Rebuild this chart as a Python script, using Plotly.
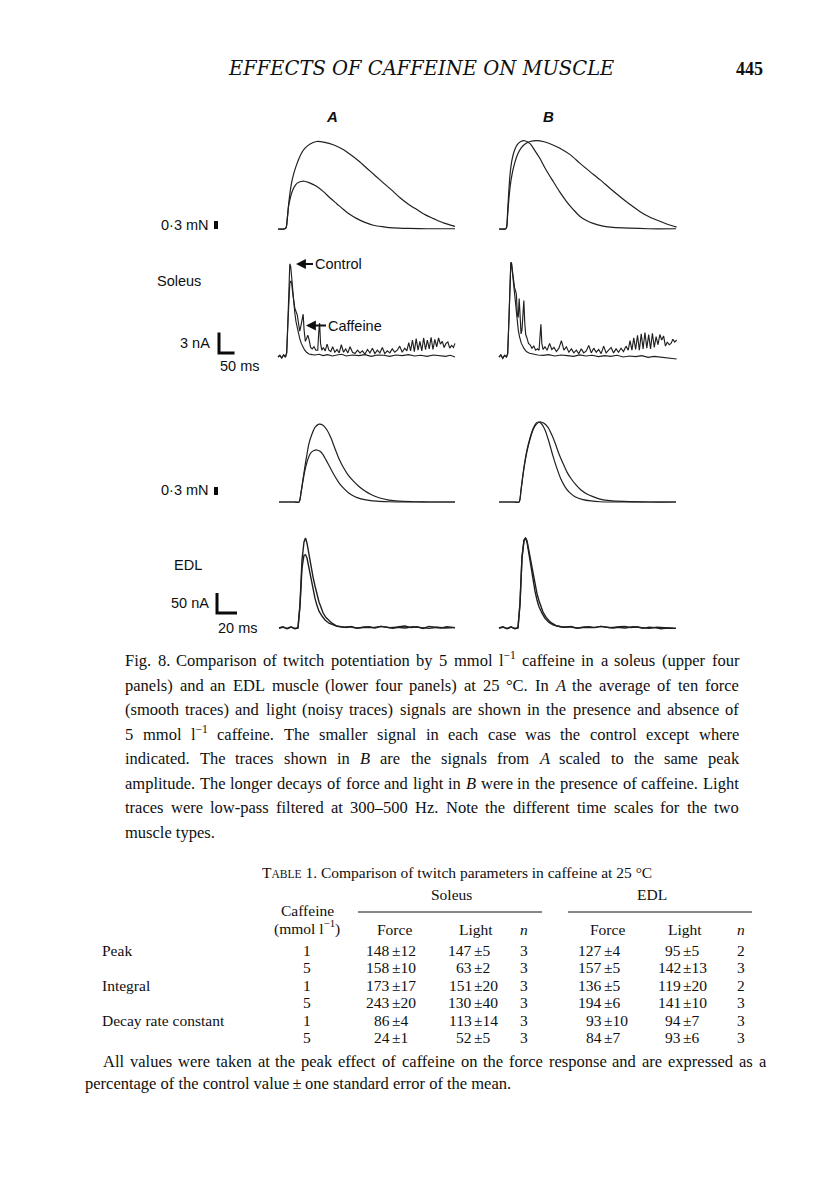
import re
import plotly.graph_objects as go

W, H = 816, 1203
INK = "#0f0f0f"
TRACE = "#202020"
SERIF = "Liberation Serif"
SANS = "Liberation Sans"

# ------------------------------------------------------------------ data
# Soleus force (time in ms, force in mN)
sol_force_A_ctrl_t = [0, 20, 26, 30, 34, 38, 44, 52, 62, 74, 85, 100, 124, 146, 168, 190, 211, 232, 254, 280, 307, 340, 372, 420, 480, 570]
sol_force_A_ctrl = [0, 0, 0.05, 0.4, 0.85, 1.08, 1.35, 1.57, 1.72, 1.78, 1.79, 1.74, 1.6, 1.4, 1.16, 0.94, 0.73, 0.54, 0.39, 0.25, 0.14, 0.08, 0.04, 0.02, 0.01, 0.01]
sol_force_A_caf_t = [0, 20, 26, 30, 34, 38, 44, 50, 58, 66, 76, 87, 105, 125, 150, 178, 210, 232, 260, 286, 315, 340, 370, 394, 420, 447, 475, 501, 535, 570]
sol_force_A_caf = [0, 0, 0.05, 0.4, 0.9, 1.3, 1.75, 2.05, 2.35, 2.6, 2.85, 3.03, 3.2, 3.28, 3.25, 3.16, 2.98, 2.8, 2.55, 2.28, 1.98, 1.72, 1.42, 1.16, 0.93, 0.73, 0.53, 0.39, 0.22, 0.1]
sol_force_B_ctrl_t = [0, 20, 24, 28, 32, 36, 42, 50, 60, 70, 83, 100, 115, 131, 150, 174, 195, 217, 240, 260, 280, 303, 335, 368, 420, 480, 570]
sol_force_B_ctrl = [0, 0, 0.05, 0.7, 1.5, 2.1, 2.6, 2.95, 3.18, 3.28, 3.31, 3.2, 2.95, 2.66, 2.25, 1.79, 1.4, 1.04, 0.72, 0.48, 0.33, 0.21, 0.11, 0.06, 0.03, 0.01, 0.01]
sol_force_B_caf_t = [0, 20, 24, 28, 32, 36, 42, 50, 60, 72, 85, 100, 121, 145, 170, 196, 230, 260, 292, 325, 357, 389, 421, 453, 485, 518, 545, 572]
sol_force_B_caf = [0, 0, 0.05, 0.55, 1.15, 1.6, 2.05, 2.45, 2.8, 3.05, 3.2, 3.28, 3.31, 3.27, 3.17, 3.03, 2.78, 2.47, 2.16, 1.85, 1.53, 1.22, 0.93, 0.66, 0.45, 0.29, 0.17, 0.07]

# Soleus light (time in ms, light signal in nA)
sol_light_A_ctrl_t = [0, 6, 12, 18, 24, 28, 32, 35, 38, 41,
                      44, 47, 50, 54, 58, 62, 66, 70, 75, 80,
                      86, 92, 100, 110, 120, 132, 145, 160, 175, 190,
                      205, 220, 240, 260, 280, 300, 320, 340, 360, 380,
                      400, 420, 440, 460, 480, 500, 520, 540, 555, 570]
sol_light_A_ctrl = [0.0, 0.25, -0.15, 0.3, 0.0, 0.6, 5.5, 11.0, 13.7, 13.3,
                    11.6, 10.0, 8.2, 6.5, 5.2, 4.2, 3.4, 2.7, 2.0, 1.5,
                    1.0, 0.7, 0.45, 0.35, 0.3, 0.4, 0.2, 0.35, 0.15, 0.3,
                    0.4, 0.15, 0.3, 0.2, 0.35, 0.1, 0.3, 0.25, 0.1, 0.3,
                    0.2, 0.35, 0.15, 0.25, 0.1, 0.3, 0.2, 0.1, 0.25, 0.0]
sol_light_A_caf_t = [0, 6, 12, 18, 24, 28, 32, 35, 38, 41,
                     44, 47, 50, 54, 58, 62, 66, 70, 74, 78,
                     81, 84, 88, 92, 96, 100, 105, 110, 116, 122,
                     128, 131, 134, 137, 141, 146, 152, 158, 164, 170,
                     176, 183, 190, 197, 204, 211, 218, 225, 232, 240,
                     248, 256, 264, 272, 280, 288, 296, 304, 312, 320,
                     328, 336, 344, 352, 360, 368, 376, 384, 392, 400,
                     408, 415, 421, 427, 433, 439, 445, 451, 457, 463,
                     469, 475, 481, 487, 493, 499, 505, 511, 517, 523,
                     529, 535, 541, 547, 553, 559, 565, 570]
sol_light_A_caf = [0.0, 0.25, -0.15, 0.3, 0.0, 0.6, 5.0, 9.0, 10.8, 11.2,
                   10.9, 9.5, 8.2, 7.2, 6.7, 6.2, 5.0, 3.8, 4.6, 6.0,
                   6.3, 4.0, 2.3, 2.7, 3.2, 2.6, 1.4, 1.2, 1.5, 1.0,
                   1.0, 3.5, 5.0, 2.0, 1.0, 1.4, 0.9, 1.9, 1.0, 0.8,
                   1.5, 0.7, 1.1, 0.6, 1.8, 0.7, 1.2, 0.6, 1.5, 0.7,
                   0.5, 1.0, 0.6, 0.9, 0.4, 1.1, 0.6, 1.3, 0.5, 1.0,
                   0.6, 1.4, 0.5, 0.9, 0.6, 1.2, 0.7, 1.0, 1.6, 0.7,
                   1.3, 0.9, 2.1, 0.9, 2.5, 0.8, 2.7, 1.0, 2.3, 0.9,
                   2.8, 1.1, 2.5, 1.2, 2.9, 1.1, 2.6, 1.5, 2.8, 1.9,
                   2.3, 1.4, 2.0, 2.2, 1.3, 1.7, 1.4, 2.0]
sol_light_B_ctrl_t = [0, 6, 12, 18, 24, 28, 32, 35, 38, 40,
                      43, 47, 50, 54, 58, 62, 66, 72, 80, 88,
                      98, 110, 125, 142, 160, 180, 200, 220, 240, 260,
                      280, 300, 320, 340, 360, 380, 400, 420, 440, 460,
                      480, 500, 520, 540, 555, 572]
sol_light_B_ctrl = [0.0, 0.3, -0.2, 0.25, 0.0, 0.5, 5.5, 11.5, 13.8, 13.9,
                    12.5, 10.5, 8.5, 6.8, 5.2, 4.0, 3.0, 2.0, 1.3, 0.8,
                    0.55, 0.4, 0.3, 0.25, 0.35, 0.15, 0.3, 0.2, 0.1, 0.3,
                    0.15, 0.25, 0.05, 0.2, 0.1, 0.25, 0.0, 0.15, 0.05, 0.2,
                    -0.05, 0.1, 0.0, -0.1, -0.2, -0.3]
sol_light_B_caf_t = [0, 6, 12, 18, 24, 28, 32, 35, 38, 40,
                     43, 47, 50, 53, 56, 59, 62, 65, 68, 71,
                     74, 77, 80, 83, 86, 90, 95, 100, 106, 112,
                     118, 124, 129, 132, 135, 138, 142, 148, 155, 163,
                     170, 177, 185, 193, 201, 209, 217, 225, 233, 241,
                     249, 257, 265, 273, 281, 289, 297, 305, 313, 321,
                     329, 337, 345, 353, 361, 369, 377, 385, 393, 401,
                     409, 416, 422, 428, 434, 440, 446, 452, 458, 464,
                     470, 476, 482, 488, 494, 500, 506, 512, 518, 524,
                     530, 536, 542, 548, 554, 560, 566, 572]
sol_light_B_caf = [0.0, 0.3, -0.2, 0.25, 0.0, 0.5, 5.5, 11.5, 13.8, 13.9,
                   12.8, 11.0, 10.2, 9.8, 9.2, 6.2, 5.8, 8.6, 6.5, 3.4,
                   4.0, 7.5, 8.3, 5.0, 3.3, 2.8, 2.0, 1.8, 1.3, 1.6,
                   1.0, 1.2, 1.0, 3.0, 4.8, 2.0, 1.1, 1.5, 1.0, 2.0,
                   1.1, 1.4, 0.8, 1.3, 2.4, 1.0, 1.5, 0.7, 1.2, 0.6,
                   1.0, 0.5, 1.2, 0.6, 0.9, 1.7, 0.6, 1.3, 0.7, 1.1,
                   0.5, 1.6, 0.6, 1.0, 1.4, 0.6, 1.2, 0.7, 1.3, 0.8,
                   1.6, 1.0, 2.4, 1.0, 2.8, 1.1, 3.2, 1.0, 3.4, 1.2,
                   3.6, 1.3, 3.3, 1.2, 3.5, 1.4, 3.0, 1.8, 3.3, 2.5,
                   3.1, 1.6, 2.2, 1.8, 2.0, 2.6, 2.2, 2.5]

# EDL force (ms, mN)
edl_force_A_ctrl_t = [0, 15, 20, 22, 24, 26, 28, 30, 32, 35, 38, 41, 44, 47, 51, 55, 60, 65, 70, 76, 82, 90, 98, 110, 125, 150, 176]
edl_force_A_ctrl = [0, 0, 0, 0.35, 0.8, 1.2, 1.5, 1.72, 1.85, 1.93, 1.95, 1.9, 1.78, 1.58, 1.3, 1.02, 0.72, 0.5, 0.33, 0.2, 0.12, 0.06, 0.03, 0.01, 0, 0, 0]
edl_force_A_caf_t = [0, 15, 20, 22, 24, 26, 28, 30, 33, 36, 40, 44, 48, 52, 56, 60, 64, 69, 74, 80, 86, 92, 100, 110, 120, 135, 150, 176]
edl_force_A_caf = [0, 0, 0, 0.35, 0.85, 1.35, 1.8, 2.2, 2.55, 2.8, 2.92, 2.88, 2.7, 2.4, 2.0, 1.62, 1.32, 1.02, 0.8, 0.58, 0.41, 0.28, 0.16, 0.07, 0.03, 0.01, 0, 0]
edl_force_B_ctrl_t = [0, 15, 20, 22, 24, 26, 28, 31, 34, 37, 39, 42, 46, 50, 54, 58, 62, 66, 71, 76, 84, 92, 101, 115, 140, 177]
edl_force_B_ctrl = [0, 0, 0, 0.45, 1.05, 1.55, 1.95, 2.4, 2.75, 2.95, 3.0, 2.95, 2.7, 2.25, 1.72, 1.25, 0.85, 0.57, 0.34, 0.2, 0.09, 0.04, 0.01, 0, 0, 0]
edl_force_B_caf_t = [0, 15, 20, 22, 24, 26, 28, 31, 34, 37, 40, 42, 45, 49, 53, 56, 60, 64, 68, 72, 77, 82, 88, 94, 102, 111, 125, 150, 177]
edl_force_B_caf = [0, 0, 0, 0.45, 1.0, 1.5, 1.9, 2.35, 2.7, 2.9, 2.99, 3.0, 2.95, 2.8, 2.5, 2.22, 1.8, 1.45, 1.12, 0.88, 0.64, 0.45, 0.3, 0.2, 0.1, 0.05, 0.02, 0, 0]

# EDL light (ms, nA)
edl_light_A_ctrl_t = [0, 4, 8, 12, 16, 19, 21, 23, 25, 26.5, 28, 30, 32, 34, 36, 38, 40, 43, 46, 50, 54, 58, 64, 70, 78, 86, 94, 102, 110, 118, 126, 134, 142, 150, 158, 166, 176]
edl_light_A_ctrl = [0, 2, -1, 3, -2, 0, 55, 150, 182, 183, 175, 148, 120, 96, 74, 56, 42, 30, 20, 12, 7, 4, 2, 3, 0, 2, 1, 4, 1, 2, 0, 3, 1, -1, 2, 0, 1]
edl_light_A_caf_t = [0, 4, 8, 12, 16, 19, 21, 23, 25, 26.5, 28, 30, 32, 34, 36, 38, 40, 42, 44, 47, 50, 53, 57, 62, 67, 72, 78, 84, 90, 96, 102, 108, 114, 120, 126, 132, 138, 144, 150, 156, 162, 168, 176]
edl_light_A_caf = [0, 3, -2, 2, -1, 1, 60, 170, 215, 225, 212, 180, 150, 128, 105, 82, 65, 52, 38, 26, 18, 12, 6, 3, 1, 4, -1, 2, 3, 0, 4, 2, -1, 3, 5, 1, 3, -1, 4, 2, 0, 3, 1]
edl_light_B_ctrl_t = [0, 4, 8, 12, 16, 19, 21, 23, 25, 26.5, 28, 30, 32, 34, 36, 38, 40, 43, 46, 50, 54, 58, 64, 70, 78, 86, 94, 102, 110, 118, 126, 134, 142, 150, 158, 166, 177]
edl_light_B_ctrl = [0, 2, -1, 3, -2, 0, 60, 175, 218, 225, 215, 182, 150, 118, 92, 70, 53, 37, 24, 14, 8, 5, 2, 3, 0, 2, 1, 4, 1, 2, 0, 3, 1, -1, 2, 0, -1]
edl_light_B_caf_t = [0, 4, 8, 12, 16, 19, 21, 23, 25, 26.5, 28, 30, 32, 34, 36, 38, 40, 42, 44, 47, 50, 53, 57, 62, 67, 72, 78, 84, 90, 96, 102, 108, 114, 120, 126, 132, 138, 144, 150, 156, 162, 168, 177]
edl_light_B_caf = [0, 3, -2, 2, -1, 1, 62, 178, 220, 225, 218, 190, 160, 140, 112, 86, 68, 55, 40, 27, 18, 12, 6, 3, 2, 4, -1, 2, 3, 1, 4, 2, 0, 3, 4, 1, 3, -1, 2, 1, -2, 0, -1]

# calibration bars
force_bar_mN = 0.3
sol_light_bar_nA = 3
sol_time_bar_ms = 50
edl_light_bar_nA = 50
edl_time_bar_ms = 20

# table
row_labels = ["Peak", "", "Integral", "", "Decay rate constant", ""]
caffeine_conc = ["1", "5", "1", "5", "1", "5"]
sol_force_mean = [148, 158, 173, 243, 86, 24]
sol_force_se = [12, 10, 17, 20, 4, 1]
sol_light_mean = [147, 63, 151, 130, 113, 52]
sol_light_se = [5, 2, 20, 40, 14, 5]
sol_n = [3, 3, 3, 3, 3, 3]
edl_force_mean = [127, 157, 136, 194, 93, 84]
edl_force_se = [4, 5, 5, 6, 10, 7]
edl_light_mean = [95, 142, 119, 141, 94, 93]
edl_light_se = [5, 13, 20, 10, 7, 6]
edl_n = [2, 3, 2, 3, 3, 3]

caption_lines = [
    "Fig. 8. Comparison of twitch potentiation by 5 mmol l<sup>−1</sup> caffeine in a soleus (upper four",
    "panels) and an EDL muscle (lower four panels) at 25 °C. In <i>A</i> the average of ten force",
    "(smooth traces) and light (noisy traces) signals are shown in the presence and absence of",
    "5 mmol l<sup>−1</sup> caffeine. The smaller signal in each case was the control except where",
    "indicated. The traces shown in <i>B</i> are the signals from <i>A</i> scaled to the same peak",
    "amplitude. The longer decays of force and light in <i>B</i> were in the presence of caffeine. Light",
    "traces were low-pass filtered at 300–500 Hz. Note the different time scales for the two",
    "muscle types.",
]
footnote_lines = [
    "All values were taken at the peak effect of caffeine on the force response and are expressed as a",
    "percentage of the control value\u2009±\u2009one standard error of the mean.",
]

# ------------------------------------------------------------------ helpers
layout = {}
fig = go.Figure()


def px2x(px):
    return px / W


def py2y(py):
    return 1 - py / H


class Panel:
    def __init__(self, n, px_l, px_r, px_zero, px_per_ms, py_top, py_bot, py_base, px_per_unit):
        self.px_zero, self.sx = px_zero, px_per_ms
        self.py_base, self.sy = py_base, px_per_unit
        xa = "xaxis" if n == 1 else f"xaxis{n}"
        ya = "yaxis" if n == 1 else f"yaxis{n}"
        self.xref = "x" if n == 1 else f"x{n}"
        self.yref = "y" if n == 1 else f"y{n}"
        layout[xa] = dict(domain=[px_l / W, px_r / W],
                          range=[self.t(px_l), self.t(px_r)],
                          visible=False, fixedrange=True, anchor=self.yref)
        layout[ya] = dict(domain=[py2y(py_bot), py2y(py_top)],
                          range=[self.v(py_bot), self.v(py_top)],
                          visible=False, fixedrange=True, anchor=self.xref)

    def t(self, px):
        return (px - self.px_zero) / self.sx

    def v(self, py):
        return (self.py_base - py) / self.sy

    def line(self, x, y, width=1.15, shape="linear", color=TRACE):
        fig.add_trace(go.Scatter(x=x, y=y, mode="lines", xaxis=self.xref, yaxis=self.yref,
                                 line=dict(color=color, width=width, shape=shape,
                                           smoothing=0.8 if shape == "spline" else None),
                                 hoverinfo="skip", showlegend=False))


SOL_SX = 177 / 570.0
EDL_SX = 1.0
sol_force_A = Panel(1, 150, 462, 278, SOL_SX, 112, 240, 229, 26.67)
sol_force_B = Panel(2, 490, 690, 499, SOL_SX, 112, 240, 229, 26.67)
sol_light_A = Panel(3, 150, 462, 278, SOL_SX, 250, 375, 357, 6.8)
sol_light_B = Panel(4, 490, 690, 499, SOL_SX, 250, 375, 357, 6.8)
edl_force_A = Panel(5, 150, 462, 279, EDL_SX, 408, 512, 502, 26.67)
edl_force_B = Panel(6, 490, 690, 499, EDL_SX, 408, 512, 502, 26.67)
edl_light_A = Panel(7, 150, 462, 279, EDL_SX, 522, 645, 628, 0.4)
edl_light_B = Panel(8, 490, 690, 499, EDL_SX, 522, 645, 628, 0.4)

# traces
for p, t1, y1, t2, y2 in [
    (sol_force_A, sol_force_A_ctrl_t, sol_force_A_ctrl, sol_force_A_caf_t, sol_force_A_caf),
    (sol_force_B, sol_force_B_ctrl_t, sol_force_B_ctrl, sol_force_B_caf_t, sol_force_B_caf),
    (edl_force_A, edl_force_A_ctrl_t, edl_force_A_ctrl, edl_force_A_caf_t, edl_force_A_caf),
    (edl_force_B, edl_force_B_ctrl_t, edl_force_B_ctrl, edl_force_B_caf_t, edl_force_B_caf),
]:
    p.line(t1, y1, width=1.2, shape="spline")
    p.line(t2, y2, width=1.2, shape="spline")

for p, t1, y1, t2, y2 in [
    (sol_light_A, sol_light_A_ctrl_t, sol_light_A_ctrl, sol_light_A_caf_t, sol_light_A_caf),
    (sol_light_B, sol_light_B_ctrl_t, sol_light_B_ctrl, sol_light_B_caf_t, sol_light_B_caf),
]:
    p.line(t1, y1, width=1.15)
    p.line(t2, y2, width=1.15)

for p, t1, y1, t2, y2 in [
    (edl_light_A, edl_light_A_ctrl_t, edl_light_A_ctrl, edl_light_A_caf_t, edl_light_A_caf),
    (edl_light_B, edl_light_B_ctrl_t, edl_light_B_ctrl, edl_light_B_caf_t, edl_light_B_caf),
]:
    p.line(t1, y1, width=1.4)
    p.line(t2, y2, width=1.4)

# calibration bars (lengths from the data units of each panel)
BAR = "#0a0a0a"
x0, y0 = sol_force_A.t(216), sol_force_A.v(229)
sol_force_A.line([x0, x0], [y0, y0 + force_bar_mN], width=4, color=BAR)
x0, y0 = edl_force_A.t(216), edl_force_A.v(495)
edl_force_A.line([x0, x0], [y0, y0 + force_bar_mN], width=4, color=BAR)
x0, y0 = sol_light_A.t(219), sol_light_A.v(353)
sol_light_A.line([x0, x0, x0 + sol_time_bar_ms], [y0 + sol_light_bar_nA, y0, y0], width=3, color=BAR)
x0, y0 = edl_light_A.t(217), edl_light_A.v(613)
edl_light_A.line([x0, x0, x0 + edl_time_bar_ms], [y0 + edl_light_bar_nA, y0, y0], width=3, color=BAR)

# ------------------------------------------------------------------ text
ann = []


def label(text, px, py, size=14.5, anchor="left", family=SANS, color=INK, **kw):
    ann.append(dict(text=text, x=px2x(px), y=py2y(py), xref="paper", yref="paper",
                    xanchor=anchor, yanchor="middle", showarrow=False,
                    font=dict(size=size, family=family, color=color), **kw))


def stext(text, px, py, size, anchor="left", family=SERIF, color=INK):
    # baseline-stable placement: anchor the bottom of the text box
    yb = py + 0.45 * size + 4
    ann.append(dict(text=text, x=px2x(px), y=py2y(yb), xref="paper", yref="paper",
                    xanchor=anchor, yanchor="bottom", showarrow=False, borderpad=0,
                    font=dict(size=size, family=family, color=color)))


# figure labels
label("<b><i>A</i></b>", 332, 116, size=15, anchor="center")
label("<b><i>B</i></b>", 548, 116, size=15, anchor="center")
label("0·3 mN", 211, 225, anchor="right")
label("Soleus", 155, 281)
label("3 nA", 212, 343, anchor="right")
label("50 ms", 218, 366)
label("0·3 mN", 211, 490, anchor="right")
label("EDL", 172, 565)
label("50 nA", 211, 603, anchor="right")
label("20 ms", 216, 628)

for txt, tip_px, tip_py, off in [("Control", 296, 264, 17), ("Caffeine", 306, 325.5, 20)]:
    ann.append(dict(text=txt, x=sol_light_A.t(tip_px), y=sol_light_A.v(tip_py),
                    xref=sol_light_A.xref, yref=sol_light_A.yref, ax=off, ay=0,
                    xanchor="left", yanchor="middle", showarrow=True, arrowhead=2,
                    arrowsize=1.1, arrowwidth=1.8, arrowcolor=INK,
                    font=dict(size=14.5, family=SANS, color=INK)))

# running head
label("<i>EFFECTS OF CAFFEINE ON MUSCLE</i>", 421, 69, size=19.5, anchor="center", family="DejaVu Serif")
label("<b>445</b>", 749, 69, size=18, anchor="center", family=SERIF)

# ---- justified paragraphs (Times metrics, used by Liberation Serif)
TW = {" ": 250, "!": 333, "(": 333, ")": 333, ",": 250, "-": 333, ".": 250, "/": 278,
      ":": 278, ";": 278, "°": 400, "–": 500, "−": 564, "±": 564, "·": 250, "\u2009": 167,
      "A": 722, "B": 667, "C": 667, "D": 722, "E": 611, "F": 556, "G": 722, "H": 722,
      "I": 333, "J": 389, "K": 722, "L": 611, "M": 889, "N": 722, "O": 722, "P": 556,
      "Q": 722, "R": 667, "S": 556, "T": 611, "U": 722, "V": 722, "W": 944, "X": 722,
      "Y": 722, "Z": 611, "a": 444, "b": 500, "c": 444, "d": 500, "e": 444, "f": 333,
      "g": 500, "h": 500, "i": 278, "j": 278, "k": 500, "l": 278, "m": 778, "n": 500,
      "o": 500, "p": 500, "q": 500, "r": 333, "s": 389, "t": 278, "u": 500, "v": 500,
      "w": 722, "x": 500, "y": 500, "z": 444}
TWI = {"A": 611, "B": 611}


def plain_w(s, size, italic=False):
    tot = 0
    for c in s:
        if italic and c in TWI:
            tot += TWI[c]
        else:
            tot += TW.get(c, 500)
    return tot * size / 1000.0


def word_w(word, size):
    tot, pos = 0.0, 0
    for m in re.finditer(r"<(sup|i)>(.*?)</\1>", word):
        tot += plain_w(word[pos:m.start()], size)
        if m.group(1) == "sup":
            tot += plain_w(m.group(2), size * 0.7)
        else:
            tot += plain_w(m.group(2), size, italic=True)
        pos = m.end()
    tot += plain_w(word[pos:], size)
    return tot


def para_size(lines, spans, cap):
    best = cap
    for line, (l, r) in zip(lines, spans):
        words = line.split(" ")
        nat1 = sum(word_w(w, 1.0) for w in words) + 0.25 * (len(words) - 1)
        best = min(best, (r - l) / nat1)
    return best


def justify(line, left, right, py, size, last=False):
    words = line.split(" ")
    if last or len(words) == 1:
        stext(line, left, py, size)
        return
    widths = [word_w(w, size) for w in words]
    gap = (right - left - sum(widths)) / (len(words) - 1)
    x = left
    for w, wd in zip(words, widths):
        stext(w, x, py, size)
        x += wd + gap


CAP_L, CAP_R = 124, 738
cap_ys = [660, 684.5, 709, 733.5, 758, 782.5, 807, 831.5]
cap_size = para_size(caption_lines[:-1], [(CAP_L, CAP_R)] * 7, 16.5)
for i, (line, py) in enumerate(zip(caption_lines, cap_ys)):
    justify(line, CAP_L, CAP_R, py, cap_size, last=(i == len(caption_lines) - 1))

foot_size = para_size(footnote_lines[:1], [(102, 765)], 16.5)
justify(footnote_lines[0], 102, 765, 1061, foot_size)
justify(footnote_lines[1], 84, 765, 1083, foot_size, last=True)

# ---- table
TS = 15.5
stext("T<span style='font-size:11.5px'>ABLE</span> 1. Comparison of twitch parameters in caffeine at 25 °C",
      457, 871, TS, anchor="center")
stext("Soleus", 451, 893, TS, anchor="center")
stext("EDL", 652, 893, TS, anchor="center")
stext("Caffeine", 307, 909, TS, anchor="center")
stext("(mmol l<sup>−1</sup>)", 307, 928, TS, anchor="center")
for txt, cx in [("Force", 394), ("Light", 476), ("<i>n</i>", 524),
                ("Force", 607), ("Light", 685), ("<i>n</i>", 741)]:
    stext(txt, cx, 928, TS, anchor="center")

shapes = [
    dict(type="line", xref="paper", yref="paper", x0=px2x(358), x1=px2x(542),
         y0=py2y(912), y1=py2y(912), line=dict(color=INK, width=1)),
    dict(type="line", xref="paper", yref="paper", x0=px2x(568), x1=px2x(752),
         y0=py2y(912), y1=py2y(912), line=dict(color=INK, width=1)),
]

row_ys = [949, 966.5, 984, 1001.5, 1019, 1036.5]
PM_HALF = plain_w("±", TS) / 2
for i, py in enumerate(row_ys):
    if row_labels[i]:
        stext(row_labels[i], 101, py, TS)
    stext(caffeine_conc[i], 307, py, TS, anchor="center")
    for mean, se, pmx in [(sol_force_mean[i], sol_force_se[i], 395),
                          (sol_light_mean[i], sol_light_se[i], 477),
                          (edl_force_mean[i], edl_force_se[i], 607),
                          (edl_light_mean[i], edl_light_se[i], 686)]:
        stext(f"{mean}", pmx - PM_HALF, py, TS, anchor="right")
        stext(f"±{se}", pmx - PM_HALF, py, TS, anchor="left")
    stext(str(sol_n[i]), 524, py, TS, anchor="center")
    stext(str(edl_n[i]), 741, py, TS, anchor="center")

layout.update(dict(width=W, height=H, margin=dict(l=0, r=0, t=0, b=0),
                   paper_bgcolor="white", plot_bgcolor="rgba(0,0,0,0)",
                   showlegend=False, annotations=ann, shapes=shapes,
                   hovermode=False, dragmode=False,
                   font=dict(family=SERIF, color=INK)))
fig.update_layout(**layout)
fig.write_html("out.html",
               config={"displayModeBar": False, "staticPlot": True},
               post_script="document.body.style.margin='0px';document.body.style.padding='0px';")
